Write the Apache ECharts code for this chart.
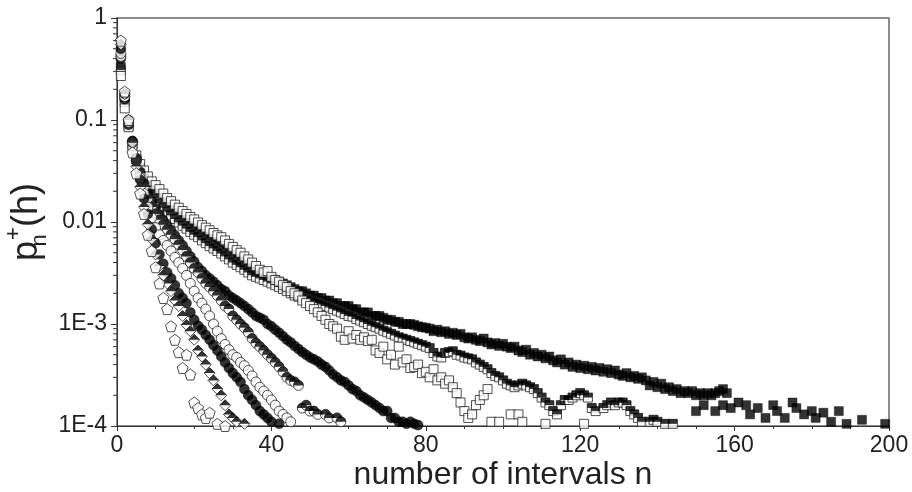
<!DOCTYPE html>
<html><head><meta charset="utf-8">
<script src="https://cdn.jsdelivr.net/npm/echarts@6/dist/echarts.min.js"></script>
<style>html,body{margin:0;padding:0;background:#fff}#c{width:912px;height:492px}</style>
</head><body><div id="c"></div>
<script>
// index 0 => n = 1
const pentagons = [0.6,0.19,0.1,0.048,0.03,0.019,0.012,0.0075,0.0052,0.0036,0.0025,0.0018,0.0014,0.00095,0.0007,0.00053,0.00037,0.0005,0.00032,0.00017,0.00015,0.00013,0.00012,0.000135,null,0.000105,null,0.0001];
const halfDiamonds = [0.55,0.18,0.1,0.06,0.035,0.022,0.014,0.0095,0.0068,0.0048,0.0037,0.003,0.0025,0.0021,0.0017,0.0015,0.0012,0.00098,0.00085,0.0007,0.00055,0.00048,0.0004,0.00033,0.00028,0.00023,0.0002,0.00016,0.00013,0.00012,0.00011,null,0.000105];
const blackDots = [0.5,0.18,0.1,0.062,0.04,0.026,0.017,0.012,0.0085,0.0062,0.0048,0.0039,0.0032,0.0028,0.0024,0.002,0.0018,0.0016,0.0013,0.0011,0.00096,0.00088,0.00078,0.0007,0.00062,0.00055,0.00048,0.00042,0.00037,0.00033,0.0003,0.00027,0.00023,0.0002,0.00018,0.00016,0.00014,0.00013,0.00012,0.00011,null,0.000105];
const openCircles = [0.45,0.17,0.095,0.06,0.04,0.027,0.019,0.014,0.011,0.0088,0.0075,0.0066,0.0059,0.0052,0.0045,0.004,0.0035,0.003,0.0025,0.0021,0.0018,0.0016,0.0014,0.0012,0.001,0.00085,0.00072,0.00063,0.00056,0.0005,0.00047,0.00042,0.00039,0.00035,0.00031,0.00027,0.00024,0.00022,0.0002,0.00018,0.00016,0.00014,0.00013,0.00012,0.00011];
const halfCircles = [0.42,0.17,0.095,0.062,0.042,0.03,0.022,0.017,0.014,0.012,0.0105,0.0094,0.0084,0.0075,0.0068,0.006,0.0053,0.0046,0.004,0.0035,0.0032,0.0028,0.0025,0.0023,0.0021,0.0019,0.0017,0.0015,0.0014,0.0012,0.0011,0.001,0.00092,0.00083,0.00072,0.00065,0.0006,0.00055,0.0005,0.00046,0.00042,0.00038,0.00034,0.0003,0.00028,0.00027,0.00025,0.00015,0.00016,0.00014,0.00014,0.00013,null,0.00013,0.00012,null,0.00012,0.00011];
const filledCircles = [0.4,0.16,0.09,0.06,0.042,0.031,0.024,0.019,0.016,0.0135,0.0118,0.0104,0.0093,0.0083,0.0074,0.0066,0.0059,0.0052,0.0046,0.0041,0.0036,0.0033,0.003,0.0028,0.0026,0.0024,0.0022,0.0021,0.0019,0.0018,0.0017,0.0016,0.0015,0.0014,0.0013,0.0012,0.00115,0.0011,0.001,0.00095,0.00088,0.00082,0.00076,0.0007,0.00066,0.00061,0.00057,0.00053,0.0005,0.00047,0.00045,0.00043,0.0004,0.00038,0.00035,0.00032,0.0003,0.00028,0.00027,0.00025,0.00023,0.00022,0.0002,0.00019,0.00018,0.00017,0.00016,0.00015,0.00014,0.00014,0.00012,0.00012,0.00011,0.00011,0.000105,0.00011,0.000105,0.000102];
const openSquares = [0.27,0.13,0.085,0.055,0.045,0.037,0.032,0.028,0.025,0.023,0.021,0.019,0.0172,0.016,0.0148,0.0138,0.0128,0.012,0.0112,0.0106,0.0099,0.0093,0.0088,0.0083,0.0078,0.0074,0.0071,0.0066,0.0061,0.0057,0.0053,0.005,0.0046,0.0043,0.004,0.0037,0.0034,0.0032,0.0033,0.0029,0.0027,0.0026,0.0024,0.0023,0.0021,0.002,0.0019,0.0017,0.0016,0.0015,0.0014,0.0013,0.0012,0.0011,0.001,0.00095,0.0009,0.00075,0.0007,0.00085,0.00072,0.00078,0.0007,0.00074,0.00068,0.0007,0.00055,0.00052,0.0006,0.00045,0.0005,0.0004,0.0006,0.00042,0.00045,0.00037,0.00038,0.0004,0.00033,0.00034,0.0003,0.00036,0.00028,0.0003,0.00026,0.00028,0.00024,0.00021,0.00017,0.00014,0.00012,0.00013,0.00016,0.00018,0.0002,0.00023,0.00011,null,0.00011,null,null,0.00013,null,0.00013,0.00011,null,null,null,null,null,0.000105,null,null,null,null,null,null,null,null,null,0.000105];
const halfSquares = [0.31,0.15,0.088,0.057,0.041,0.032,0.026,0.022,0.019,0.017,0.0152,0.0138,0.0126,0.0116,0.0107,0.0099,0.0092,0.0086,0.008,0.0075,0.0071,0.0066,0.0062,0.0058,0.0055,0.0052,0.0049,0.0046,0.0043,0.004,0.0038,0.0036,0.0034,0.0032,0.003,0.0029,0.0028,0.0027,0.0026,0.0025,0.0024,0.0023,0.0022,0.0021,0.002,0.0019,0.00185,0.0018,0.00175,0.0017,0.00165,0.0016,0.00155,0.0015,0.00145,0.0014,0.00135,0.0013,0.00125,0.0012,0.00118,0.00112,0.00108,0.00104,0.001,0.00096,0.00093,0.0009,0.00086,0.00083,0.0008,0.00077,0.00074,0.00072,0.0007,0.00068,0.00066,0.00064,0.00062,0.0006,0.00058,0.00052,0.00048,0.00047,0.00052,0.00053,0.00054,0.0005,0.00049,0.00047,0.00046,0.00045,0.00042,0.0004,0.00038,0.00036,0.00033,0.00031,0.0003,0.00028,0.00026,0.00025,0.00024,0.00025,0.00026,0.00025,0.00024,0.00023,0.00021,0.00019,0.00017,0.00016,0.00014,0.00013,0.00016,0.00018,0.00018,0.00019,0.0002,0.00021,0.0002,0.00019,0.00015,0.00014,null,0.00015,0.00016,0.00017,0.00016,0.00017,0.00017,0.00016,0.00014,0.00013,0.00012,0.00011,null,0.00011,0.000115,0.00011,null,0.000105,null,0.000105];
const filledSquares = [0.33,0.155,0.09,0.058,0.042,0.034,0.028,0.024,0.021,0.019,0.017,0.0155,0.014,0.013,0.0122,0.0114,0.0106,0.0099,0.0093,0.0087,0.0082,0.0077,0.0072,0.0068,0.0064,0.006,0.0056,0.0052,0.0048,0.0045,0.0043,0.0041,0.0039,0.0037,0.0035,0.0033,0.0031,0.003,0.0029,0.0028,0.0027,0.0026,0.0025,0.0024,0.0023,0.0022,0.0021,0.0021,0.002,0.0019,0.0019,0.0018,0.0018,0.0017,0.0017,0.0016,0.0016,0.0015,0.0015,0.0015,0.0014,0.0014,0.0013,0.0013,0.0013,0.0012,0.0012,0.0012,0.00115,0.0011,0.0011,0.00105,0.00105,0.001,0.001,0.001,0.00098,0.00095,0.00093,0.00092,0.0009,0.00085,0.00088,0.00083,0.00085,0.0008,0.00082,0.00078,0.0008,0.00074,0.00072,0.00074,0.0007,0.00068,0.00072,0.00066,0.00063,0.00065,0.00061,0.00064,0.0006,0.00058,0.0006,0.00055,0.00053,0.00056,0.0005,0.00052,0.00048,0.0005,0.00046,0.00048,0.00044,0.00042,0.00045,0.0004,0.00042,0.00038,0.0004,0.00037,0.00039,0.00036,0.00038,0.00035,0.00037,0.00034,0.00036,0.00033,0.00035,0.00032,0.00031,0.00033,0.0003,0.00031,0.00029,0.0003,0.00028,0.00025,0.00027,0.00024,0.00026,0.00023,0.00024,0.00022,0.00023,0.00021,0.00022,0.00021,0.00022,0.0002,0.00021,0.0002,0.00021,0.0002,0.00021,0.00022,0.00023,0.00021];
// tail of the filled-square series, [n, p]
const filledSquaresTail = [[150,0.00014],[152,0.00016],[155,0.00014],[157,0.00016],[159,0.00015],[161,0.00017],[163,0.00016],[164,0.00013],[166,0.00015],[168,0.00012],[170,0.00016],[171,0.00014],[173,0.00012],[175,0.00017],[176,0.00015],[178,0.00013],[180,0.00014],[181,0.00012],[183,0.000135],[185,0.00011],[187,0.00014],[189,0.000105],[193,0.000115],[199,0.000105]];

const xTicks = {min: 0, max: 200, interval: 40};
const yTickLabels = ['1','0.1','0.01','1E-3','1E-4'];

function pts(arr){ const o=[]; arr.forEach((v,i)=>{ if(v!=null) o.push([i+1,v]); }); return o; }

const FONT = '"Liberation Sans", Arial, sans-serif';
const EDGE = '#222', BLACK = '#000';
const PENT = 'path://M50,0 L100,38 L81,100 L19,100 L0,38 Z';
const HALF_RECT = 'path://M0,0 L10,0 L10,5 L0,5 Z';
const HALF_CIRC = 'path://M0,10 A10,10 0 0 1 20,10 Z';
const HALF_DIAM = 'path://M0,10 L10,0 L20,10 Z';

function openS(data, symbol, size){ return {type:'scatter', data, symbol, symbolSize:size, itemStyle:{color:'#fff', borderColor:EDGE, borderWidth:1}, silent:true}; }
function fillS(data, symbol, size){ return {type:'scatter', data, symbol, symbolSize:size, itemStyle:{color:BLACK, borderColor:BLACK, borderWidth:0.5}, silent:true}; }
function topHalf(data, symbol, w, h){ return {type:'scatter', data, symbol, symbolSize:[w, h/2], symbolOffset:[0,'-50%'], itemStyle:{color:BLACK}, silent:true}; }

const minorVals = [];
for (let d = -4; d < 0; d++) for (let k = 2; k <= 9; k++) minorVals.push([0, k*Math.pow(10,d)]);

const series = [
  fillS(pts(filledSquares), 'rect', 9),
  fillS(filledSquaresTail, 'rect', 9),
  openS(pts(halfSquares), 'rect', 9),
  topHalf(pts(halfSquares), HALF_RECT, 9, 9),
  openS(pts(openSquares), 'rect', 9),
  fillS(pts(filledCircles), 'circle', 10),
  openS(pts(halfCircles), 'circle', 10),
  topHalf(pts(halfCircles), HALF_CIRC, 10, 10),
  openS(pts(openCircles), 'circle', 10),
  fillS(pts(blackDots), 'circle', 10),
  openS(pts(halfDiamonds), 'diamond', 11),
  topHalf(pts(halfDiamonds), HALF_DIAM, 11, 11),
  openS(pts(pentagons), PENT, 11),
  {type:'custom', silent:true, clip:false, z:10, data:minorVals,
   renderItem:(params, api)=>{ const p = api.coord([0, api.value(1)]);
     return {type:'line', shape:{x1:p[0]-4, y1:p[1], x2:p[0], y2:p[1]}, style:{stroke:'#333', lineWidth:1}}; }}
];

const chart = echarts.init(document.getElementById('c'));
chart.setOption({
  animation:false,
  grid:{left:117, right:23, top:18, bottom:66, containLabel:false, outerBoundsMode:'none',
        show:true, borderColor:'#666', borderWidth:1.5, backgroundColor:'transparent'},
  xAxis:{type:'value', min:xTicks.min, max:xTicks.max, interval:xTicks.interval,
    axisLine:{lineStyle:{color:'#333', width:1}},
    axisTick:{inside:false, length:5, lineStyle:{color:'#333'}},
    minorTick:{show:true, splitNumber:4, length:3, lineStyle:{color:'#333'}},
    splitLine:{show:false},
    axisLabel:{fontSize:23, color:'#222', fontFamily:FONT, margin:8},
    name:'number of intervals n', nameLocation:'middle', nameGap:33, nameMoveOverlap:false,
    nameTextStyle:{fontSize:32, color:'#222', fontFamily:FONT}},
  yAxis:{type:'log', logBase:10, min:1e-4, max:1,
    axisLine:{show:true, lineStyle:{color:'#333', width:1}},
    axisTick:{show:true, inside:false, length:6, lineStyle:{color:'#333'}},
    splitLine:{show:false},
    axisLabel:{fontSize:23, color:'#222', fontFamily:FONT, margin:10,
      formatter:(v)=> yTickLabels[Math.round(-Math.log10(v))]},
    name:'{p|p}{n|n}{s|+}{p|(h)}', nameLocation:'middle', nameGap:66, nameMoveOverlap:false,
    nameTextStyle:{color:'#222', fontFamily:FONT,
      rich:{
        p:{fontSize:36, fontFamily:FONT, color:'#222', lineHeight:48, verticalAlign:'middle'},
        n:{fontSize:22, fontFamily:FONT, color:'#222', width:1, verticalAlign:'bottom', lineHeight:48},
        s:{fontSize:22, fontFamily:FONT, color:'#222', width:13, verticalAlign:'top', lineHeight:48}
      }}},
  series
});
</script></body></html>
